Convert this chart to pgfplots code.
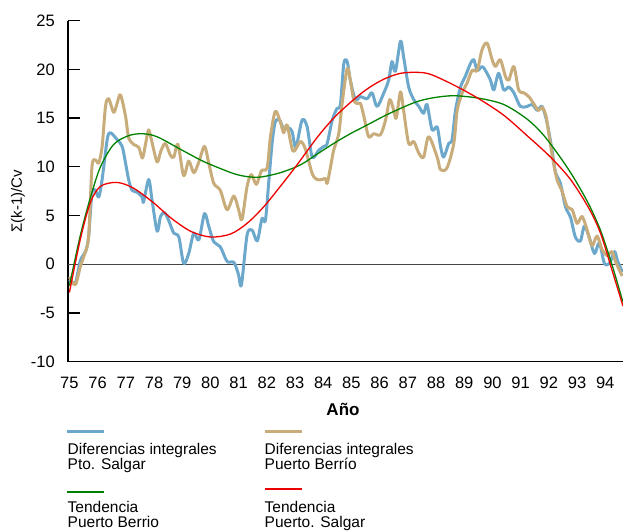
\documentclass[border=0pt]{standalone}
\usepackage{pgfplots}
\pgfplotsset{compat=1.18}
\usepackage{fontspec}
\setmainfont{Liberation Sans}

\definecolor{salgar}{RGB}{108,168,204}
\definecolor{berrio}{RGB}{200,172,122}
\definecolor{tgreen}{RGB}{0,130,0}
\definecolor{tred}{RGB}{238,0,0}
\definecolor{zeroline}{RGB}{68,68,68}

\begin{document}
\begin{tikzpicture}
  % page frame: axis box lower left corner sits at (0,0)
  \path[use as bounding box] (-68pt,-169.3pt) rectangle (555pt,361.7pt);
  \begin{axis}[
      at={(0,0)}, anchor=south west,
      scale only axis,
      width=555pt, height=341pt,
      xmin=74.95, xmax=94.63,
      ymin=-10, ymax=25,
      axis x line*=bottom, axis y line*=left,
      axis line style={black, line width=1.3pt},
      xtick={75,...,94},
      ytick={-10,-5,0,5,10,15,20,25},
      yticklabels={-10,-5,0,5,10,15,20,25},
      x tick style={draw=none},
      y tick style={black, line width=1.3pt},
      tick align=inside,
      major tick length=12pt,
      /pgf/number format/assume math mode=true,
      tick label style={font=\fontsize{16.5}{18}\selectfont},
      xticklabel style={inner sep=0pt, anchor=north, yshift=-15pt},
      yticklabel style={inner sep=0pt, anchor=east, xshift=-13pt},
    ]
    \draw[zeroline, line width=1.5pt] (axis cs:74.95,0) -- (axis cs:94.63,0);

    % Diferencias integrales Pto. Salgar
    \addplot[salgar, line width=3pt, smooth, line join=round] coordinates {
      (75.00,-1.6) (75.21,-1.9) (75.39,0.4) (75.57,1.3) (75.68,2.8) (75.80,7.3)
      (75.92,7.6) (76.04,6.9) (76.16,8.7) (76.34,12.8) (76.45,13.5) (76.69,12.8)
      (76.87,12.1) (76.99,10.4) (77.10,8.7) (77.22,7.6) (77.40,7.4) (77.58,6.9)
      (77.63,6.4) (77.81,8.7) (77.93,6.6) (78.11,3.4) (78.23,4.9) (78.37,5.3)
      (78.52,4.5) (78.70,3.2) (78.88,2.8) (79.05,0.1) (79.23,1.1) (79.41,3.2)
      (79.59,2.5) (79.79,5.2) (79.94,3.9) (80.12,2.3) (80.35,1.8) (80.59,0.3)
      (80.83,0.2) (80.99,-1.0) (81.10,-2.1) (81.30,3.0) (81.48,3.5) (81.66,2.4)
      (81.83,4.7) (81.95,4.5) (82.07,8.5) (82.19,12.5) (82.30,14.6) (82.45,14.8)
      (82.60,13.9) (82.78,14.0) (82.90,13.6) (83.03,12.0) (83.25,14.8) (83.43,14.1)
      (83.61,11.0) (83.84,11.7) (84.02,12.1) (84.14,12.4) (84.32,14.8) (84.49,16.0)
      (84.61,16.4) (84.73,20.6) (84.85,20.8) (84.96,18.9) (85.14,16.9) (85.32,17.2)
      (85.56,17.0) (85.73,17.6) (85.91,16.2) (86.15,17.6) (86.32,18.9) (86.44,20.8)
      (86.56,19.8) (86.74,22.9) (86.85,21.3) (87.03,18.2) (87.21,16.9) (87.39,16.2)
      (87.56,15.5) (87.68,16.4) (87.86,13.8) (88.04,14.1) (88.16,12.1) (88.27,11.0)
      (88.45,12.4) (88.57,12.8) (88.69,15.8) (88.87,18.2) (89.04,19.3) (89.22,20.6)
      (89.34,21.0) (89.46,19.9) (89.63,20.3) (89.75,19.9) (89.93,18.9) (90.05,17.9)
      (90.22,19.6) (90.40,17.9) (90.58,18.2) (90.76,17.6) (90.99,16.2) (91.23,16.2)
      (91.41,16.4) (91.59,15.8) (91.76,16.2) (91.94,14.5) (92.12,11.6) (92.23,9.5)
      (92.41,8.3) (92.59,5.9) (92.77,4.8) (92.94,2.8) (93.12,2.4) (93.26,3.9)
      (93.44,2.7) (93.62,1.1) (93.79,2.2) (93.97,0.1) (94.15,0.1) (94.33,1.3)
      (94.43,0.4) (94.61,-0.8)
    };

    % Diferencias integrales Puerto Berrio
    \addplot[berrio, line width=3pt, smooth, line join=round] coordinates {
      (75.00,-1.3) (75.21,-2.1) (75.39,-0.2) (75.51,0.8) (75.68,2.8) (75.80,10.0)
      (75.92,10.7) (76.04,10.4) (76.16,12.1) (76.28,16.2) (76.39,17.0) (76.57,15.6)
      (76.69,16.5) (76.81,17.4) (76.99,15.2) (77.10,13.0) (77.28,12.3) (77.46,12.0)
      (77.59,10.9) (77.71,12.5) (77.81,13.8) (77.93,12.5) (78.11,10.5) (78.24,11.6)
      (78.40,12.4) (78.58,11.2) (78.70,11.0) (78.85,12.3) (79.05,9.1) (79.23,10.6)
      (79.41,9.4) (79.59,10.5) (79.79,12.1) (79.94,10.4) (80.12,8.3) (80.35,7.6)
      (80.59,5.6) (80.83,7.0) (81.00,5.6) (81.12,4.6) (81.30,8.0) (81.45,9.2)
      (81.63,8.2) (81.81,9.6) (82.01,9.9) (82.13,13.1) (82.30,15.7) (82.48,14.6)
      (82.60,13.5) (82.72,14.3) (82.93,11.6) (83.19,12.6) (83.37,11.8) (83.61,9.3)
      (83.78,8.7) (83.96,8.7) (84.08,8.8) (84.14,8.3) (84.26,10.0) (84.37,11.7)
      (84.55,13.4) (84.67,16.5) (84.85,20.1) (84.96,18.9) (85.08,16.9) (85.20,16.5)
      (85.32,16.5) (85.44,15.2) (85.61,13.1) (85.79,13.4) (86.03,13.3) (86.21,14.8)
      (86.36,16.9) (86.50,15.8) (86.59,15.0) (86.74,17.7) (86.85,15.8) (87.03,12.4)
      (87.21,12.6) (87.39,11.4) (87.56,11.0) (87.74,13.1) (88.04,11.0) (88.16,9.7)
      (88.39,9.9) (88.63,12.4) (88.75,15.8) (88.93,17.6) (89.10,18.6) (89.28,19.9)
      (89.46,19.9) (89.63,22.0) (89.81,22.7) (89.99,21.0) (90.11,20.3) (90.28,21.0)
      (90.46,19.3) (90.58,18.9) (90.76,20.3) (90.93,17.9) (91.11,17.6) (91.29,17.2)
      (91.46,16.5) (91.63,15.8) (91.77,16.1) (91.90,15.2) (92.00,13.4) (92.13,11.0)
      (92.29,8.7) (92.47,7.5) (92.65,5.9) (92.83,5.6) (93.00,4.2) (93.18,4.9)
      (93.36,3.5) (93.53,1.9) (93.71,2.9) (93.89,1.5) (94.07,0.9) (94.24,1.3)
      (94.36,0.3) (94.60,-1.2)
    };

    % Tendencia Puerto Berrio
    \addplot[tgreen, line width=1.3pt, smooth] coordinates {
      (75.00,-2.2) (75.39,3.0) (75.74,6.8) (76.10,10.0) (76.57,12.3) (77.10,13.2)
      (77.58,13.4) (78.10,13.1) (78.94,11.8) (79.65,10.7) (80.12,10.1) (80.83,9.3)
      (81.30,9.0) (81.77,8.95) (82.48,9.4) (83.19,10.2) (83.78,11.3) (84.37,12.4)
      (84.96,13.4) (85.56,14.3) (86.15,15.2) (86.74,16.0) (87.33,16.7) (87.92,17.1)
      (88.63,17.3) (89.51,17.05) (90.40,16.4) (91.23,14.9) (91.80,13.3) (92.40,11.0)
      (92.88,8.9) (93.41,6.2) (93.83,3.5) (94.18,0.5) (94.40,-1.6) (94.63,-3.9)
    };

    % Tendencia Puerto. Salgar
    \addplot[tred, line width=1.3pt, smooth] coordinates {
      (75.00,-2.9) (75.39,2.6) (75.74,6.3) (76.10,8.0) (76.69,8.4) (77.28,7.8)
      (77.99,6.3) (78.58,4.8) (79.29,3.4) (80.00,2.8) (80.71,3.1) (81.30,4.2)
      (81.89,5.9) (82.48,8.0) (83.07,10.2) (83.78,13.0) (84.37,15.0) (84.96,16.6)
      (85.56,18.0) (86.15,19.0) (86.74,19.6) (87.33,19.7) (87.80,19.5) (88.63,18.4)
      (89.51,17.0) (90.40,15.3) (91.23,13.2) (92.06,11.0) (92.77,8.7) (93.41,5.8)
      (93.83,3.2) (94.24,-0.6) (94.63,-4.3)
    };
  \end{axis}

  % axis titles
  \node[anchor=base, font=\fontsize{17}{19}\selectfont\bfseries] at (275pt,-53.3pt) {Año};
  \node[rotate=90, font=\fontsize{15}{17}\selectfont] at (-50pt,160.7pt) {Σ(k-1)/Cv};

  % legend (line above each label)
  \begin{scope}[font=\fontsize{15.5}{15}\selectfont]
    \draw[salgar, line width=3pt] (-1.3pt,-69.3pt) -- (36pt,-69.3pt);
    \node[anchor=base west, inner sep=0pt] at (-0.5pt,-92.3pt) {Diferencias integrales};
    \node[anchor=base west, inner sep=0pt] at (-0.5pt,-107.6pt) {Pto. Salgar};

    \draw[berrio, line width=3pt] (197pt,-69.3pt) -- (234pt,-69.3pt);
    \node[anchor=base west, inner sep=0pt] at (196.5pt,-92.3pt) {Diferencias integrales};
    \node[anchor=base west, inner sep=0pt] at (196.5pt,-107.6pt) {Puerto Berrío};

    \draw[tgreen, line width=1.7pt] (-1.3pt,-130.2pt) -- (36pt,-130.2pt);
    \node[anchor=base west, inner sep=0pt] at (-0.5pt,-151pt) {Tendencia};
    \node[anchor=base west, inner sep=0pt] at (-0.5pt,-165.5pt) {Puerto Berrio};

    \draw[tred, line width=1.7pt] (197pt,-127.2pt) -- (234pt,-127.2pt);
    \node[anchor=base west, inner sep=0pt] at (196.5pt,-151pt) {Tendencia};
    \node[anchor=base west, inner sep=0pt] at (196.5pt,-165.5pt) {Puerto. Salgar};
  \end{scope}
\end{tikzpicture}
\end{document}
